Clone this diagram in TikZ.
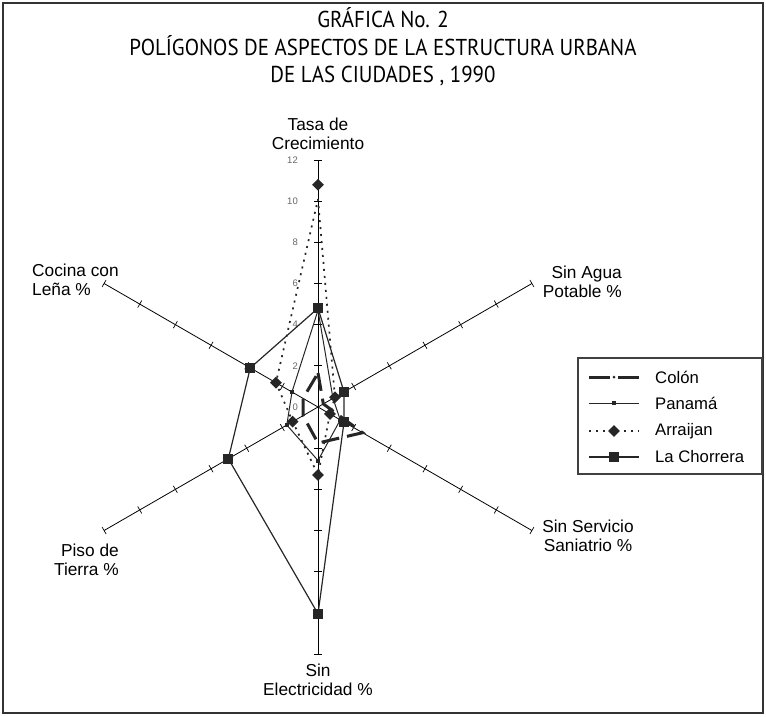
\documentclass[tikz,border=0pt]{standalone}
\usepackage{fontspec}
\setmainfont{Liberation Sans}
\newfontfamily\titlefont[FakeStretch=0.91]{PT Sans}
\usetikzlibrary{calc,shapes.geometric}
\begin{document}
\begin{tikzpicture}[x=1pt,y=1pt,
  axisline/.style={line width=0.8pt, black},
  tickmark/.style={line width=0.7pt, black},
  ticklab/.style={font=\fontsize{9.5}{10}\selectfont, text=black!60, anchor=east, inner sep=0pt},
  axlab/.style={font=\fontsize{17.3}{19.5}\selectfont, inner sep=0pt},
  colonline/.style={line width=3pt, black!85, dash pattern=on 18pt off 8pt},
  panline/.style={line width=1pt, black!85},
  arrline/.style={line width=1.7pt, black!85, dash pattern=on 2pt off 5pt},
  chorline/.style={line width=1.2pt, black!85},
  panmark/.style={rectangle, fill=black!85, minimum size=4pt, inner sep=0pt},
  arrmark/.style={diamond, fill=black!85, minimum size=12pt, inner sep=0pt},
  chormark/.style={rectangle, fill=black!85, minimum size=10pt, inner sep=0pt},
  colmark/.style={circle, fill=black!85, minimum size=3pt, inner sep=0pt},
  legtext/.style={font=\fontsize{16.7}{19}\selectfont, anchor=west, inner sep=0pt},
]
\useasboundingbox (0,0) rectangle (766,-716);
\draw[line width=2.2pt, black!80] (3,-3) rectangle (763,-713);

% title
\node[font=\titlefont\fontsize{23}{27.5}\selectfont, align=center, inner sep=0pt] (title) at (383,-47)
  {GRÁFICA No. 2\\POLÍGONOS DE ASPECTOS DE LA ESTRUCTURA URBANA\\DE LAS CIUDADES , 1990};

% axes
\coordinate (O) at (318,-407);
\foreach \a/\n in {90/t,30/ur,-30/lr,-90/b,210/ll,150/ul} {
  \coordinate (e\n) at ($(O)+(\a:247)$);
  \draw[axisline] (O) -- (e\n);
  \foreach \k in {1,...,6}
    \draw[tickmark] ($(O)+(\a:{\k*41.17})+({\a+90}:4)$) -- ($(O)+(\a:{\k*41.17})+({\a-90}:4)$);
}
\foreach \k in {0,2,...,12}
  \node[ticklab] (tl\k) at (298,{-407+\k*20.58}) {\k};

% axis labels
\node[axlab, align=center] (lt) at (318,-134) {Tasa de\\Crecimiento};
\node[axlab, align=right, anchor=east] (lur) at (622,-282) {Sin Agua\\Potable \%};
\node[axlab, align=center] (llr) at (588,-536) {Sin Servicio\\Saniatrio \%};
\node[axlab, align=center] (lb) at (318,-680) {Sin\\Electricidad \%};
\node[axlab, align=right, anchor=east] (lll) at (119,-560) {Piso de\\Tierra \%};
\node[axlab, align=left, anchor=west] (lul) at (32,-280) {Cocina con\\Leña \%};

% data points
\newcommand\dpt[3]{\coordinate (#3) at ($(O)+(#1:{#2*20.58})$);}
% Colon
\dpt{90}{1.65}{c1}\dpt{30}{0.3}{c2}\dpt{-30}{2.5}{c3}\dpt{-90}{1.75}{c4}\dpt{210}{0.84}{c5}\dpt{150}{0.84}{c6}
% Panama
\dpt{90}{4.7}{p1}\dpt{30}{0.84}{p2}\dpt{-30}{1.25}{p3}\dpt{-90}{2.6}{p4}\dpt{210}{1.75}{p5}\dpt{150}{1.46}{p6}
% Arraijan
\dpt{90}{10.1}{a1}\dpt{30}{0.95}{a2}\dpt{-30}{0.67}{a3}\dpt{-90}{3.3}{a4}\dpt{210}{1.42}{a5}\dpt{150}{2.36}{a6}
\dpt{90}{10.8}{a0}
% La Chorrera
\dpt{90}{4.8}{l1}\dpt{30}{1.46}{l2}\dpt{-30}{1.46}{l3}\dpt{-90}{10.05}{l4}\dpt{210}{5.03}{l5}\dpt{150}{3.8}{l6}

\draw[arrline] (a1) -- (a2) -- (a3) -- (a4) -- (a5) -- (a6) -- cycle;
\draw[panline] (p1) -- (p2) -- (p3) -- (p4) -- (p5) -- (p6) -- cycle;
\draw[colonline] (c1) -- (c2) -- (c3) -- (c4) -- (c5) -- (c6) -- cycle;
\draw[chorline] (l1) -- (l2) -- (l3) -- (l4) -- (l5) -- (l6) -- cycle;

\foreach \n in {p1,p2,p3,p4,p5,p6} \node[panmark] (m\n) at (\n) {};
\foreach \n in {a0,a2,a3,a4,a5,a6} \node[arrmark] (m\n) at (\n) {};
\foreach \n in {l1,l2,l3,l4,l5,l6} \node[chormark] (m\n) at (\n) {};

% legend
\draw[line width=1.2pt, black!75] (578,-358) rectangle (762,-474);
\coordinate (g1a) at (589,-377); \coordinate (g1b) at (639,-377);
\coordinate (g2a) at (589,-403); \coordinate (g2b) at (639,-403);
\coordinate (g3a) at (589,-431); \coordinate (g3b) at (639,-431);
\coordinate (g4a) at (589,-457); \coordinate (g4b) at (639,-457);
\draw[line width=3pt, black!85] (g1a) -- ++(21,0);
\draw[line width=3pt, black!85] (g1b) -- ++(-21,0);
\node[colmark] (gm1) at ($(g1a)!0.5!(g1b)$) {};
\draw[panline] (g2a) -- (g2b);
\node[panmark] (gm2) at ($(g2a)!0.5!(g2b)$) {};
\draw[arrline] (g3a) -- (g3b);
\node[arrmark] (gm3) at ($(g3a)!0.5!(g3b)$) {};
\draw[chorline] (g4a) -- (g4b);
\node[chormark] (gm4) at ($(g4a)!0.5!(g4b)$) {};
\node[legtext] (lg1) at (655,-377) {Colón};
\node[legtext] (lg2) at (655,-403) {Panamá};
\node[legtext] (lg3) at (655,-431) {Arraijan};
\node[legtext] (lg4) at (655,-457) {La Chorrera};
\end{tikzpicture}
\end{document}
